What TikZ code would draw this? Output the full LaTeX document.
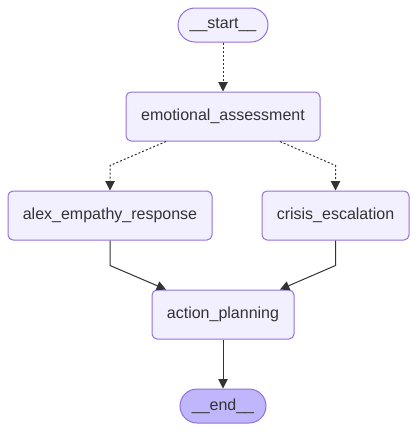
\documentclass[tikz,border=0pt]{standalone}
\usepackage{fontspec}
\setmainfont{Liberation Sans}
\usepackage{xcolor}
\usepackage{tikz}
\usetikzlibrary{arrows.meta,positioning}

\definecolor{boxfill}{HTML}{F2F0FF}
\definecolor{boxline}{HTML}{9370DB}
\definecolor{endfill}{HTML}{BFB6FC}
\definecolor{inkgray}{HTML}{333333}

\tikzset{
    stepbox/.style={draw=boxline, fill=boxfill, line width=0.75pt, rounded corners=3.75pt,
        minimum height=36.75pt, inner sep=0pt, text=inkgray, font=\fontsize{12}{14}\selectfont},
    termbox/.style={stepbox, rounded corners=12.75pt, minimum height=25.5pt},
    flow/.style={draw=inkgray, line width=0.75pt, -{Triangle[length=7pt,width=7pt]}},
    dotflow/.style={flow, dash pattern=on 1.5pt off 1.5pt},
}

\begin{document}
\begin{tikzpicture}[x=0.75pt, y=-0.75pt]
    \useasboundingbox (0,0) rectangle (418,432);

    % Nodes
    \node[termbox, minimum width=67.5pt] (start) at (223,25) {\_\_start\_\_};
    \node[stepbox, minimum width=145.5pt] (assess) at (223,116.5) {emotional\_assessment};
    \node[stepbox, minimum width=153pt] (empathy) at (110,215.5) {alex\_empathy\_response};
    \node[stepbox, minimum width=110.25pt] (crisis) at (335.5,215.5) {crisis\_escalation};
    \node[stepbox, minimum width=106.5pt] (plan) at (223,314.5) {action\_planning};
    \node[termbox, minimum width=64.5pt, fill=endfill] (end) at (223,406) {\_\_end\_\_};

    % Edges
    \draw[dotflow] (start) -- (assess);
    \draw[dotflow] (assess.south) ++(-57,0) -- ++(-56,24) -- (empathy.north);
    \draw[dotflow] (assess.south) ++(57,0) -- ++(55.5,24) -- (crisis.north);
    \draw[flow] (empathy.south) -- ++(0,25) -- ([xshift=-42.75pt]plan.north);
    \draw[flow] (crisis.south) -- ++(0,25) -- ([xshift=42.75pt]plan.north);
    \draw[flow] (plan) -- (end);
\end{tikzpicture}
\end{document}
